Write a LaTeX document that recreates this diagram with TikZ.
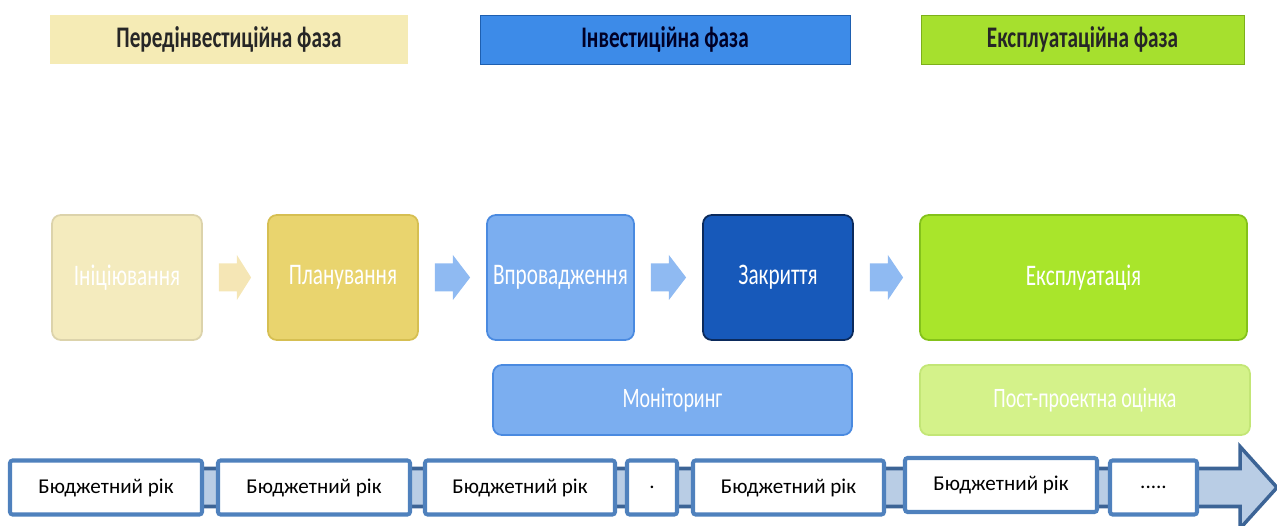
\documentclass[tikz,border=0pt]{standalone}
\usepackage{fontspec}
\setmainfont{Carlito}
\newfontfamily\narrowfont[FakeStretch=0.71]{Carlito}
\usepackage{xcolor}
\usetikzlibrary{calc}

\definecolor{prefill}{HTML}{F5EBB5}
\definecolor{invfill}{HTML}{3D8BE8}
\definecolor{invline}{HTML}{1E5FB0}
\definecolor{expfill}{HTML}{A6E02E}
\definecolor{expline}{HTML}{7DB01A}
\definecolor{initfill}{HTML}{F4EBBE}
\definecolor{planfill}{HTML}{E9D46E}
\definecolor{planline}{HTML}{D6BF52}
\definecolor{implfill}{HTML}{7BAEF0}
\definecolor{implline}{HTML}{4A8AE0}
\definecolor{closefill}{HTML}{1759BA}
\definecolor{closeline}{HTML}{0B2A5C}
\definecolor{operfill}{HTML}{A9E52B}
\definecolor{operline}{HTML}{84C21A}
\definecolor{postfill}{HTML}{D4F28A}
\definecolor{postline}{HTML}{C3E676}
\definecolor{bandfill}{HTML}{B9CDE5}
\definecolor{bandline}{HTML}{3C6496}
\definecolor{yearline}{HTML}{4F81BD}

% block arrow between two stage boxes
\newcommand\stagearrow[3]{%
  \fill[#3] ($(#1.east)+(0.32,0.28)$) -- ($(#1.east)+(0.68,0.28)$)
    -- ($(#1.east)+(0.68,0.45)$) -- ($(#2.west)+(-0.32,0)$)
    -- ($(#1.east)+(0.68,-0.45)$) -- ($(#1.east)+(0.68,-0.28)$)
    -- ($(#1.east)+(0.32,-0.28)$) -- cycle;}

\begin{document}
\begin{tikzpicture}[
    phase/.style={minimum height=0.98cm,inner sep=0pt,font=\narrowfont\bfseries\fontsize{17}{19}\selectfont},
    stage/.style={rounded corners=5pt,minimum height=2.5cm,inner sep=0pt,line width=1pt,
      text=white,font=\narrowfont\fontsize{17}{19}\selectfont},
    track/.style={rounded corners=5pt,minimum height=1.4cm,inner sep=0pt,line width=1pt,
      text=white,font=\narrowfont\fontsize{16}{18}\selectfont},
    year/.style={draw=yearline,line width=2.3pt,fill=white,rounded corners=1.5pt,
      minimum height=1.08cm,inner sep=0pt,font=\fontsize{12}{14}\selectfont}]
  \useasboundingbox (0,0) rectangle (25.54,-10.52);

  % phases
  \node[phase,fill=prefill,text=black!85] (pre) at (4.58,-0.79) [minimum width=7.16cm] {Передінвестиційна фаза};
  \node[phase,fill=invfill,draw=invline,text=black!85!blue] (inv) at (13.3,-0.79) [minimum width=7.4cm] {Інвестиційна фаза};
  \node[phase,fill=expfill,draw=expline,text=black!85] (exp) at (21.65,-0.79) [minimum width=6.46cm] {Експлуатаційна фаза};

  % project stages
  \node[stage,fill=initfill,draw=initfill!90!black,minimum width=3cm] (init) at (2.54,-5.55) {Ініціювання};
  \node[stage,fill=planfill,draw=planline,minimum width=3cm] (plan) at (6.86,-5.55) {Планування};
  \node[stage,fill=implfill,draw=implline,minimum width=2.94cm] (impl) at (11.21,-5.55) {Впровадження};
  \node[stage,fill=closefill,draw=closeline,minimum width=3cm] (close) at (15.56,-5.55) {Закриття};
  \node[stage,fill=operfill,draw=operline,minimum width=6.54cm] (oper) at (21.67,-5.55) {Експлуатація};

  \stagearrow{init}{plan}{initfill!95!orange}
  \stagearrow{plan}{impl}{implfill!85!white}
  \stagearrow{impl}{close}{implfill!85!white}
  \stagearrow{close}{oper}{implfill!85!white}

  \node[track,fill=implfill,draw=implline,minimum width=7.18cm] (monit) at (13.45,-8.0) {Моніторинг};
  \node[track,fill=postfill,draw=postline,minimum width=6.6cm] (post) at (21.7,-8.0) {Пост-проектна оцінка};

  % time axis
  \coordinate (start) at (0.2,-9.75);
  \coordinate (tip) at (25.54,-9.75);
  \draw[bandline,line width=2pt,fill=bandfill,line join=miter]
    ($(start)+(0,0.38)$) -- ($(tip)+(-0.74,0.38)$) -- ($(tip)+(-0.74,0.82)$) -- (tip)
    -- ($(tip)+(-0.74,-0.82)$) -- ($(tip)+(-0.74,-0.38)$) -- ($(start)+(0,-0.38)$) -- cycle;

  \foreach \n/\cx/\cy/\w/\t in {1/2.12/-9.75/3.84/Бюджетний рік, 2/6.28/-9.75/3.84/Бюджетний рік,
      3/10.4/-9.75/3.8/Бюджетний рік, 4/13.04/-9.75/1.0/{.}, 5/15.77/-9.75/3.82/Бюджетний рік,
      6/20.02/-9.7/3.84/Бюджетний рік, 7/23.07/-9.75/1.74/{.....}}
    \node[year,minimum width=\w cm] (y\n) at (\cx,\cy) {\t};
\end{tikzpicture}
\end{document}
